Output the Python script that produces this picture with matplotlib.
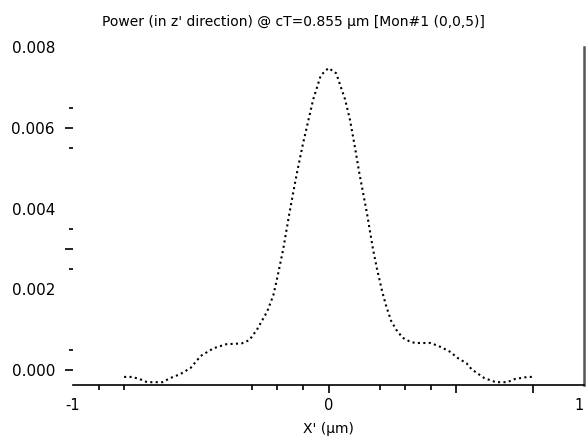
import matplotlib
matplotlib.use("Agg")
import matplotlib.pyplot as plt

# readings from the reference picture (x in um, power)
x_um = [-0.80, -0.77, -0.74, -0.71, -0.65, -0.62, -0.58, -0.54, -0.50, -0.45,
        -0.40, -0.34, -0.31, -0.28, -0.24, -0.216, -0.20, -0.177, -0.154, -0.138,
        -0.123, -0.10, -0.08, -0.06, -0.045, -0.03, 0.0,
        0.03, 0.065, 0.084, 0.104, 0.12, 0.135, 0.15, 0.174, 0.19, 0.21,
        0.225, 0.245, 0.265, 0.29, 0.32, 0.34, 0.40, 0.44, 0.48, 0.50,
        0.54, 0.56, 0.61, 0.655, 0.70, 0.73, 0.78, 0.80]
power = [-0.00017, -0.00017, -0.00022, -0.00030, -0.00030, -0.00020, -0.00010, 0.00005, 0.00035, 0.00054,
         0.00064, 0.00066, 0.00074, 0.00100, 0.00145, 0.00185, 0.00230, 0.00300, 0.00385, 0.00440,
         0.00490, 0.00560, 0.00615, 0.00670, 0.00700, 0.00730, 0.00748,
         0.00735, 0.00670, 0.00620, 0.00550, 0.00490, 0.00440, 0.00390, 0.00300, 0.00250, 0.00195,
         0.00160, 0.00122, 0.00100, 0.00080, 0.00070, 0.00067, 0.00067, 0.00057, 0.00044, 0.00032,
         0.00017, 0.00002, -0.00020, -0.00030, -0.00030, -0.00022, -0.00017, -0.00017]

ylabels = [0.000, 0.002, 0.004, 0.006, 0.008]
ymajor = [0.000, 0.003, 0.006]
yminor = [0.0005, 0.0025, 0.0035, 0.0055, 0.0065]
xmajor = [-1, 0, 0.5, 0.8, 1]
xmajor_labels = ['-1', '0', '', '', '1']
xminor = [-0.9, -0.8, -0.3, -0.2, -0.1, 0.2, 0.3, 0.4]

fig = plt.figure(figsize=(5.87, 4.41), dpi=100, facecolor='white')
ax = fig.add_axes([73/587, 1 - 385/441, (584 - 73)/587, (385 - 47)/441])

ax.plot(x_um, power, color='black', linewidth=1.5, linestyle=(0, (1, 1.6)))

ax.set_xlim(-1, 1)
ax.set_ylim(-0.00037, 0.008)

ax.spines['top'].set_visible(False)
ax.spines['left'].set_visible(False)
ax.spines['bottom'].set_linewidth(1.2)
ax.spines['right'].set_color('#555555')
ax.spines['right'].set_linewidth(1.8)

ax.set_xticks(xmajor)
ax.set_xticklabels(xmajor_labels)
ax.set_xticks(xminor, minor=True)
ax.tick_params(axis='x', which='major', length=6, width=1.2, pad=3, labelsize=10.5)
ax.tick_params(axis='x', which='minor', length=3.5, width=1.2)
ax.xaxis.get_major_ticks()[0].tick1line.set_visible(False)
ax.xaxis.get_major_ticks()[-1].tick1line.set_visible(False)
ax.get_xticklabels()[-1].set_horizontalalignment('right')

ax.set_yticks(ymajor)
ax.set_yticklabels([])
ax.set_yticks(yminor, minor=True)
ax.tick_params(axis='y', which='major', length=6, width=1.2)
ax.tick_params(axis='y', which='minor', length=3, width=1.2)

ylab = ax.secondary_yaxis('left')
ylab.set_yticks(ylabels)
ylab.set_yticklabels(['%.3f' % v for v in ylabels])
ylab.tick_params(length=0, pad=13, labelsize=11)
ylab.spines['left'].set_visible(False)

ax.set_xlabel("X' (\u03bcm)", fontsize=10, labelpad=7)
fig.text(0.5, 1 - 22/441, "Power (in z' direction) @ cT=0.855 \u03bcm [Mon#1 (0,0,5)]",
         ha='center', va='center', fontsize=10)

fig.savefig('out.png', dpi=100)
